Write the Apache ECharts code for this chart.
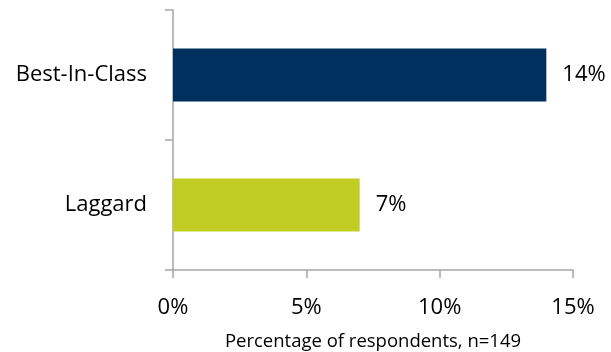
<!DOCTYPE html>
<html><head><meta charset="utf-8">
<script src="https://cdn.jsdelivr.net/npm/echarts@6/dist/echarts.min.js"></script>
<style>html,body{margin:0;padding:0;background:#fff}#c{width:611px;height:352px}</style>
</head><body><div id="c"></div>
<script>
const categories = ["Best-In-Class", "Laggard"];
const values = [14, 7];
const barColors = ["#00305E", "#C2CD23"];
const xTicks = [0, 5, 10, 15];
const xName = "Percentage of respondents, n=149";

const font = "'Open Sans', sans-serif";
const chart = echarts.init(document.getElementById('c'), null, {renderer: 'canvas'});
chart.setOption({
  animation: false,
  grid: {left: 173, right: 38, top: 10, bottom: 82, containLabel: false, outerBoundsMode: 'none'},
  xAxis: {
    type: 'value', min: xTicks[0], max: xTicks[xTicks.length-1], interval: 5,
    name: xName, nameLocation: 'middle', nameGap: 62,
    nameTextStyle: {fontFamily: font, fontSize: 18.5, color: '#000'},
    axisLine: {show: true, lineStyle: {color: '#a6a6a6', width: 1.5}},
    axisTick: {show: true, length: 8, lineStyle: {color: '#a6a6a6', width: 1.5}},
    axisLabel: {formatter: v => v + '%', fontFamily: font, fontSize: 22, color: '#000', margin: 27},
    splitLine: {show: false}
  },
  yAxis: {
    type: 'category', data: categories, inverse: true,
    axisLine: {show: true, lineStyle: {color: '#a6a6a6', width: 1.5}},
    axisTick: {show: true, length: 8, lineStyle: {color: '#a6a6a6', width: 1.5}},
    axisLabel: {fontFamily: font, fontSize: 22, color: '#000', margin: 26}
  },
  series: [{
    type: 'bar', barWidth: 53,
    data: values.map((v, i) => ({value: v, itemStyle: {color: barColors[i]}})),
    label: {show: true, position: 'right', distance: 16, formatter: p => p.value + '%',
      fontFamily: font, fontSize: 22, color: '#000'}
  }]
});
</script></body></html>
